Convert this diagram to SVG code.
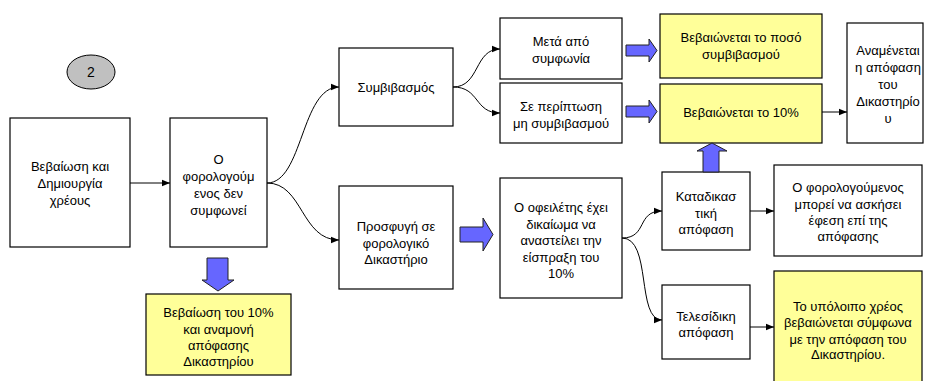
<svg xmlns="http://www.w3.org/2000/svg" width="925" height="381" viewBox="0 0 925 381">
<style>
.box{fill:#ffffff;stroke:#000;stroke-width:1.2}
.yel{fill:#ffff99;stroke:#000;stroke-width:1.2}
.blk{fill:#6666ff;stroke:#222;stroke-width:1}
.t{font-family:"Liberation Sans",Arial,sans-serif;font-size:13px;fill:#000;text-anchor:middle}
.c{fill:none;stroke:#000;stroke-width:1}
</style>
<defs>
<marker id="ah" markerWidth="8" markerHeight="8" refX="8" refY="4" orient="auto" markerUnits="userSpaceOnUse">
<path d="M0,0.8 L8,4 L0,7.2 Z" fill="#000"/>
</marker>
</defs>
<rect width="925" height="381" fill="#fff"/>

<g id="n-circle">
<ellipse cx="91" cy="72" rx="24" ry="17" fill="#c0c0c0" stroke="#000" stroke-width="1"/>
<text class="t" x="91" y="77" style="font-size:14px">2</text>
</g>

<g id="n1">
<rect class="box" x="10" y="118" width="120" height="129"/>
<text class="t"><tspan x="70" y="171">Βεβαίωση και</tspan><tspan x="70" y="188">Δημιουργία</tspan><tspan x="70" y="205">χρέους</tspan></text>
</g>

<g id="n2">
<rect class="box" x="170" y="118" width="97" height="129"/>
<text class="t"><tspan x="218.5" y="164">Ο</tspan><tspan x="218.5" y="181">φορολογούμ</tspan><tspan x="218.5" y="198">ενος δεν</tspan><tspan x="218.5" y="215">συμφωνεί</tspan></text>
</g>

<g id="n3">
<rect class="yel" x="146" y="294" width="145" height="81"/>
<text class="t"><tspan x="218.5" y="317">Βεβαίωση του 10%</tspan><tspan x="218.5" y="334">και αναμονή</tspan><tspan x="218.5" y="350">απόφασης</tspan><tspan x="218.5" y="366">Δικαστηρίου</tspan></text>
</g>

<g id="n4">
<rect class="box" x="339" y="48" width="114" height="78"/>
<text class="t" x="396" y="92">Συμβιβασμός</text>
</g>

<g id="n5">
<rect class="box" x="339" y="186" width="114" height="103"/>
<text class="t"><tspan x="396" y="231">Προσφυγή σε</tspan><tspan x="396" y="247.5">φορολογικό</tspan><tspan x="396" y="264">Δικαστήριο</tspan></text>
</g>

<g id="n6">
<rect class="box" x="500" y="18" width="122" height="61"/>
<text class="t"><tspan x="561" y="46">Μετά από</tspan><tspan x="561" y="63">συμφωνία</tspan></text>
</g>

<g id="n7">
<rect class="box" x="500" y="83" width="122" height="60"/>
<text class="t"><tspan x="561" y="111">Σε περίπτωση</tspan><tspan x="561" y="128">μη συμβιβασμού</tspan></text>
</g>

<g id="n8">
<rect class="box" x="500" y="178" width="122" height="120"/>
<text class="t"><tspan x="561" y="212">Ο οφειλέτης έχει</tspan><tspan x="561" y="228.5">δικαίωμα να</tspan><tspan x="561" y="245">αναστείλει την</tspan><tspan x="561" y="261.5">είσπραξη του</tspan><tspan x="561" y="278">10%</tspan></text>
</g>

<g id="n9">
<rect class="yel" x="660" y="14" width="162" height="64"/>
<text class="t"><tspan x="741" y="42">Βεβαιώνεται το ποσό</tspan><tspan x="741" y="59">συμβιβασμού</tspan></text>
</g>

<g id="n10">
<rect class="yel" x="660" y="84" width="162" height="59"/>
<text class="t" x="741" y="117">Βεβαιώνεται το 10%</text>
</g>

<g id="n11">
<rect class="box" x="847" y="23" width="76" height="120"/>
<text class="t"><tspan x="888" y="55">Αναμένεται</tspan><tspan x="888" y="72">η απόφαση</tspan><tspan x="888" y="89">του</tspan><tspan x="888" y="106">Δικαστηρίο</tspan><tspan x="888" y="123">υ</tspan></text>
</g>

<g id="n12">
<rect class="box" x="662" y="172" width="88" height="78"/>
<text class="t"><tspan x="706" y="201">Καταδικασ</tspan><tspan x="706" y="217.5">τική</tspan><tspan x="706" y="234">απόφαση</tspan></text>
</g>

<g id="n13">
<rect class="box" x="774" y="165" width="148" height="91"/>
<text class="t"><tspan x="848" y="192">Ο φορολογούμενος</tspan><tspan x="848" y="209">μπορεί να ασκήσει</tspan><tspan x="848" y="225">έφεση επί της</tspan><tspan x="848" y="241">απόφασης</tspan></text>
</g>

<g id="n14">
<rect class="box" x="662" y="285" width="88" height="74"/>
<text class="t"><tspan x="706" y="321">Τελεσίδικη</tspan><tspan x="706" y="337">απόφαση</tspan></text>
</g>

<g id="n15">
<rect class="yel" x="774" y="271" width="148" height="114"/>
<text class="t"><tspan x="848" y="311">Το υπόλοιπο χρέος</tspan><tspan x="848" y="327">βεβαιώνεται σύμφωνα</tspan><tspan x="848" y="343.5">με την απόφαση του</tspan><tspan x="848" y="359">Δικαστηρίου.</tspan></text>
</g>

<g id="connectors">
<path class="c" d="M130,183 L170,183" marker-end="url(#ah)"/>
<path class="c" d="M267,183 C303,183 301,87 339,87" marker-end="url(#ah)"/>
<path class="c" d="M267,183 C303,183 301,240 339,240" marker-end="url(#ah)"/>
<path class="c" d="M453,87 C480,87 474,49 500,49" marker-end="url(#ah)"/>
<path class="c" d="M453,87 C480,87 474,113 500,113" marker-end="url(#ah)"/>
<path class="c" d="M622,238 C648,238 636,211 662,211" marker-end="url(#ah)"/>
<path class="c" d="M622,238 C652,238 636,320 662,320" marker-end="url(#ah)"/>
<path class="c" d="M822,112 L847,112" marker-end="url(#ah)"/>
<path class="c" d="M750,211 L774,211" marker-end="url(#ah)"/>
<path class="c" d="M750,327 L774,327" marker-end="url(#ah)"/>
<path class="blk" d="M626,45 L649,45 L649,39 L657,50.5 L649,62 L649,56 L626,56 Z"/>
<path class="blk" d="M626,106 L649,106 L649,100 L657,111.5 L649,123 L649,117 L626,117 Z"/>
<path class="blk" d="M460,227 L483,227 L483,218 L493,234.5 L483,251 L483,242 L460,242 Z"/>
<path class="blk" d="M703,172 L703,151 L697,151 L712,143 L727,151 L719,151 L719,172 Z"/>
<path class="blk" d="M207,258 L228,258 L228,280 L234,280 L218,291 L202,280 L207,280 Z"/>
</g>
</svg>
